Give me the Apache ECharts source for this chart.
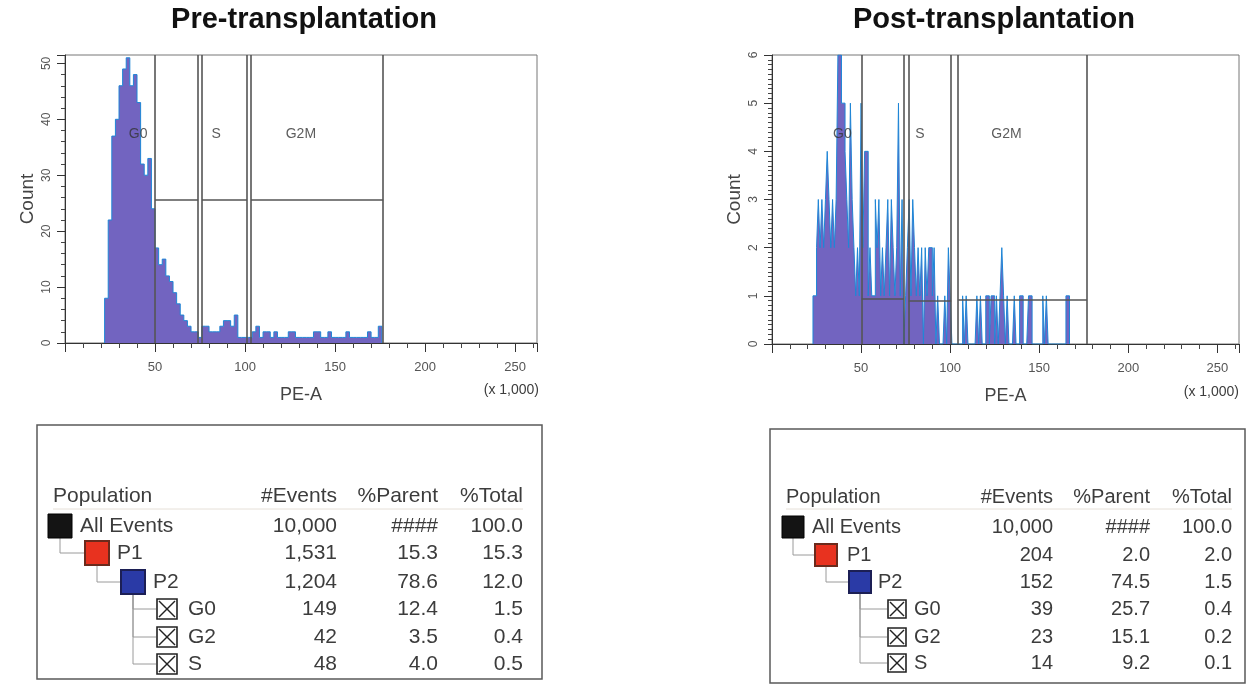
<!DOCTYPE html>
<html>
<head>
<meta charset="utf-8">
<script src="https://cdn.jsdelivr.net/npm/echarts@6/dist/echarts.min.js"></script>
<style>
  html, body { margin: 0; padding: 0; background: #ffffff; }
  #chart { width: 1248px; height: 684px; }
</style>
</head>
<body>
<div id="chart"></div>
<script>
// ---- PE-A histograms (PE-A in thousands, counts per bin) ----
const preBinStart = 22, preBinWidth = 2;
const preCounts = [
  8, 22, 37, 40, 46, 49, 51, 46, 48, 43, 32, 30, 33, 24, 17, 14, 15, 12, 11, 9,
  7, 5, 4, 3, 2, 2, 1, 3, 3, 2, 2, 2, 3, 4, 4, 3, 5, 1, 1, 1,
  1, 2, 3, 1, 2, 2, 1, 2, 1, 1, 1, 2, 2, 1, 1, 1, 1, 1, 2, 2,
  1, 1, 2, 1, 1, 1, 1, 2, 1, 1, 1, 1, 1, 2, 1, 1, 3
];
const postBinStart = 23, postBinWidth = 1;
const postCounts = [
  1, 1, 2, 3, 2, 3, 2, 3, 4, 3, 2, 3, 2, 3, 6, 6, 5, 5, 4, 3,
  2, 5, 3, 2, 1, 2, 1, 5, 2, 4, 4, 1, 2, 1, 1, 3, 2, 3, 1, 2,
  1, 2, 3, 1, 3, 2, 1, 2, 5, 1, 3, 0, 1, 2, 3, 1, 3, 2, 1, 2,
  1, 2, 0, 2, 1, 2, 2, 1, 2, 0, 1, 0, 0, 0, 1, 0, 2, 1, 0, 0,
  0, 0, 0, 0, 1, 0, 1, 0, 0, 0, 0, 0, 1, 0, 1, 0, 0, 1, 1, 0,
  1, 1, 0, 1, 0, 1, 2, 1, 0, 1, 0, 0, 0, 1, 0, 0, 1, 1, 0, 0,
  0, 1, 1, 0, 0, 0, 0, 0, 0, 1, 0, 1, 0, 0, 0, 0, 0, 0, 0, 0,
  0, 0, 1, 1
];

// ---- interval gates (PE-A from / to, count level) ----
const gateNames = ['G0', 'S', 'G2M'];
const preGateFrom = [50, 76.1, 103.3];
const preGateTo = [73.9, 101.1, 176.7];
const preGateLevel = [25.6, 25.6, 25.6];
const postGateFrom = [50.3, 76.8, 104.5];
const postGateTo = [74, 100.6, 176.8];
const postGateLevel = [0.93, 0.89, 0.92];

// ---- axis ticks ----
const peTickLabels = ['50', '100', '150', '200', '250'];
const preCountLabels = ['0', '10', '20', '30', '40', '50'];
const postCountLabels = ['0', '1', '2', '3', '4', '5', '6'];

// ---- population statistics tables ----
const tableHeaders = ['#Events', '%Parent', '%Total'];
const populations = ['All Events', 'P1', 'P2', 'G0', 'G2', 'S'];
const preEvents = ['10,000', '1,531', '1,204', '149', '42', '48'];
const preParent = ['####', '15.3', '78.6', '12.4', '3.5', '4.0'];
const preTotal = ['100.0', '15.3', '12.0', '1.5', '0.4', '0.5'];
const postEvents = ['10,000', '204', '152', '39', '23', '14'];
const postParent = ['####', '2.0', '74.5', '25.7', '15.1', '9.2'];
const postTotal = ['100.0', '2.0', '1.5', '0.4', '0.2', '0.1'];

const PE_MAX = 262.144;
const PRE_YMAX = 51.5;
const POST_YMAX = 6;
const FONT = '"Liberation Sans", Arial, sans-serif';

// Step outline points for a histogram: left edge of every bin, closed to zero.
function histPoints(start, width, counts) {
  const pts = [[start, 0]];
  counts.forEach((c, i) => pts.push([start + i * width, c]));
  pts.push([start + counts.length * width, 0]);
  return pts;
}

function gateSegments(from, to, level, ymax) {
  const segs = [];
  from.forEach((f, i) => {
    segs.push({ coords: [[f, 0], [f, ymax]] });
    segs.push({ coords: [[to[i], 0], [to[i], ymax]] });
    segs.push({ coords: [[f, level[i]], [to[i], level[i]]] });
  });
  return segs;
}

function xAxes(gridIndex) {
  return [
    { // minor ticks every 10
      type: 'value', gridIndex, min: 0, max: PE_MAX, interval: 10, position: 'bottom',
      axisLine: { show: true, lineStyle: { color: '#333', width: 1 } },
      axisTick: { show: true, length: 5, lineStyle: { color: '#444' } },
      axisLabel: { show: false }, splitLine: { show: false }
    },
    { // labelled ticks every 50
      type: 'value', gridIndex, min: 0, max: PE_MAX, interval: 50, position: 'bottom',
      axisLine: { show: false },
      axisTick: { show: true, length: 9, lineStyle: { color: '#333' } },
      axisLabel: {
        show: true, margin: 18, fontSize: 13, color: '#555', fontFamily: FONT,
        formatter: v => peTickLabels.includes(String(v)) ? String(v) : ''
      },
      splitLine: { show: false },
      name: 'PE-A', nameLocation: 'middle', nameGap: 43,
      nameTextStyle: { fontSize: 18, color: '#444', fontFamily: FONT }
    }
  ];
}

function yAxes(gridIndex, ymax, majorStep, minorStep, labels) {
  return [
    {
      type: 'value', gridIndex, min: 0, max: ymax, interval: minorStep, position: 'left',
      axisLine: { show: true, lineStyle: { color: '#333', width: 1 } },
      axisTick: { show: true, length: 4, lineStyle: { color: '#444' } },
      axisLabel: { show: false }, splitLine: { show: false }
    },
    {
      type: 'value', gridIndex, min: 0, max: ymax, interval: majorStep, position: 'left',
      axisLine: { show: false },
      axisTick: { show: true, length: 8, lineStyle: { color: '#333' } },
      axisLabel: {
        show: true, rotate: 90, margin: 12, fontSize: 12, color: '#555', fontFamily: FONT,
        formatter: v => labels.includes(String(v)) ? String(v) : ''
      },
      splitLine: { show: false },
      name: 'Count', nameLocation: 'middle', nameGap: 28,
      nameTextStyle: { fontSize: 19, color: '#444', fontFamily: FONT }
    }
  ];
}

function histSeries(xi, yi, pts) {
  return {
    type: 'line', xAxisIndex: xi, yAxisIndex: yi, step: 'end', symbol: 'none',
    data: pts, silent: true, z: 2,
    lineStyle: { color: '#1f86d6', width: 1 },
    areaStyle: { color: '#7264c0', opacity: 1 }
  };
}

function gateSeries(xi, yi, segs) {
  return {
    type: 'lines', coordinateSystem: 'cartesian2d', xAxisIndex: xi, yAxisIndex: yi,
    data: segs, silent: true, z: 3,
    lineStyle: { color: '#555', width: 1.6, opacity: 1 }
  };
}

function gateLabelSeries(xi, yi, anchors) {
  return {
    type: 'scatter', xAxisIndex: xi, yAxisIndex: yi, symbolSize: 0, silent: true, z: 4,
    data: anchors.map((a, i) => [a[0], a[1], gateNames[i]]),
    label: {
      show: true, position: 'inside', formatter: p => p.value[2],
      fontSize: 14, color: '#333', fontFamily: FONT
    }
  };
}

// ---- statistics tables as graphic elements ----
function txt(s, x, y, align, size, weight) {
  return {
    type: 'text', x, y, silent: true,
    style: {
      text: s, align, verticalAlign: 'middle', fill: '#3c3c3c',
      font: (weight || 'normal') + ' ' + size + 'px ' + FONT
    }
  };
}
function ln(x1, y1, x2, y2, color, w) {
  return { type: 'line', silent: true, shape: { x1, y1, x2, y2 }, style: { stroke: color, lineWidth: w || 1 } };
}

function tableGraphics(cfg, events, parent, total) {
  const els = [];
  els.push({ type: 'rect', silent: true, shape: { x: cfg.x, y: cfg.y, width: cfg.w, height: cfg.h },
             style: { fill: '#ffffff', stroke: '#5a5a5a', lineWidth: 1.5 } });
  const hy = cfg.y + cfg.headerDy;
  els.push(txt('Population', cfg.x + cfg.popDx, hy, 'left', cfg.font));
  tableHeaders.forEach((h, i) => els.push(txt(h, cfg.x + cfg.colDx[i], hy, 'right', cfg.font)));
  els.push(ln(cfg.x + cfg.popDx, cfg.y + cfg.ruleDy, cfg.x + cfg.colDx[2], cfg.y + cfg.ruleDy, '#e6e0d8', 1));

  const levels = [0, 1, 2, 3, 3, 3];
  const parents = [-1, 0, 1, 2, 2, 2];
  const s = cfg.icon;
  const rowY = cfg.rowDy.map(d => cfg.y + d);
  // tree connectors
  populations.forEach((p, r) => {
    if (parents[r] < 0) return;
    const pr = parents[r];
    const px = cfg.x + cfg.iconDx[levels[pr]] + s / 2;
    const cx = cfg.x + cfg.iconDx[levels[r]];
    els.push(ln(px, rowY[pr] + s / 2, px, rowY[r], '#9a9a9a', 1));
    els.push(ln(px, rowY[r], cx, rowY[r], '#9a9a9a', 1));
  });
  populations.forEach((p, r) => {
    const ix = cfg.x + cfg.iconDx[levels[r]];
    const iy = rowY[r] - s / 2;
    if (r === 0) {
      els.push({ type: 'rect', silent: true, shape: { x: ix, y: iy, width: s, height: s },
                 style: { fill: '#141414', stroke: '#000', lineWidth: 1 } });
    } else if (r === 1) {
      els.push({ type: 'rect', silent: true, shape: { x: ix, y: iy, width: s, height: s },
                 style: { fill: '#e8321f', stroke: '#6b2a1c', lineWidth: 2 } });
    } else if (r === 2) {
      els.push({ type: 'rect', silent: true, shape: { x: ix, y: iy, width: s, height: s },
                 style: { fill: '#2a3aa6', stroke: '#1c1f55', lineWidth: 2 } });
    } else {
      const c = s - 4;
      const cx0 = ix + 1, cy0 = rowY[r] - c / 2;
      els.push({ type: 'rect', silent: true, shape: { x: cx0, y: cy0, width: c, height: c },
                 style: { fill: '#ffffff', stroke: '#222', lineWidth: 1.6 } });
      els.push(ln(cx0 + 2, cy0 + 2, cx0 + c - 2, cy0 + c - 2, '#222', 1.4));
      els.push(ln(cx0 + c - 2, cy0 + 2, cx0 + 2, cy0 + c - 2, '#222', 1.4));
    }
    els.push(txt(p, cfg.x + cfg.labelDx[levels[r]], rowY[r], 'left', cfg.font));
    els.push(txt(events[r], cfg.x + cfg.colDx[0], rowY[r], 'right', cfg.font));
    els.push(txt(parent[r], cfg.x + cfg.colDx[1], rowY[r], 'right', cfg.font));
    els.push(txt(total[r], cfg.x + cfg.colDx[2], rowY[r], 'right', cfg.font));
  });
  return els;
}

const preTableCfg = {
  x: 37, y: 425, w: 505, h: 254, font: 21, popDx: 16, colDx: [300, 401, 486],
  headerDy: 71, ruleDy: 84, rowDy: [101, 128, 157, 184, 212, 239],
  iconDx: [11, 48, 84, 119], labelDx: [43, 80, 116, 151], icon: 24
};
const postTableCfg = {
  x: 770, y: 429, w: 475, h: 254, font: 20, popDx: 16, colDx: [283, 380, 462],
  headerDy: 68, ruleDy: 80, rowDy: [98, 126, 153, 180, 208, 234],
  iconDx: [12, 45, 79, 117], labelDx: [42, 77, 108, 144], icon: 22
};

const chart = echarts.init(document.getElementById('chart'), null, { renderer: 'canvas' });

const titleStyle = t => {
  const el = txt(t.text, t.x, 20, 'center', 29, 'bold');
  el.style.fill = '#111';
  return el;
};

const option = {
  animation: false,
  backgroundColor: '#ffffff',
  grid: [
    { left: 65, top: 55, width: 472, height: 288, show: true, borderColor: '#777', borderWidth: 1, backgroundColor: '#fff' },
    { left: 772, top: 55, width: 467, height: 289, show: true, borderColor: '#777', borderWidth: 1, backgroundColor: '#fff' }
  ],
  xAxis: [...xAxes(0), ...xAxes(1)],
  yAxis: [
    ...yAxes(0, PRE_YMAX, 10, 2, preCountLabels),
    ...yAxes(1, POST_YMAX, 1, 0.1, postCountLabels)
  ],
  series: [
    histSeries(1, 1, histPoints(preBinStart, preBinWidth, preCounts)),
    gateSeries(1, 1, gateSegments(preGateFrom, preGateTo, preGateLevel, PRE_YMAX)),
    gateLabelSeries(1, 1, [[40.6, 37.4], [83.9, 37.4], [131, 37.4]]),
    histSeries(3, 3, histPoints(postBinStart, postBinWidth, postCounts)),
    gateSeries(3, 3, gateSegments(postGateFrom, postGateTo, postGateLevel, POST_YMAX)),
    gateLabelSeries(3, 3, [[39.5, 4.35], [83, 4.35], [131.6, 4.35]])
  ],
  graphic: [
    titleStyle({ text: 'Pre-transplantation', x: 304 }),
    titleStyle({ text: 'Post-transplantation', x: 994 }),
    txt('(x 1,000)', 539, 390, 'right', 14),
    txt('(x 1,000)', 1239, 392, 'right', 14),
    ...tableGraphics(preTableCfg, preEvents, preParent, preTotal),
    ...tableGraphics(postTableCfg, postEvents, postParent, postTotal)
  ]
};

chart.setOption(option);
</script>
</body>
</html>
